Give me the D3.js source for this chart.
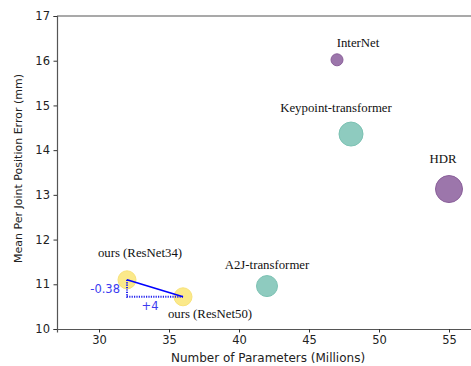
<!DOCTYPE html>
<html>
<head>
<meta charset="utf-8">
<script src="https://cdn.jsdelivr.net/npm/d3@7"></script>
<style>
  body { margin: 0; background: #fff; }
  svg { display: block; }
</style>
</head>
<body>
<div id="chart"></div>
<script>
// Data
const methods = ['InterNet', 'Keypoint-transformer', 'HDR', 'A2J-transformer', 'ours (ResNet34)', 'ours (ResNet50)'];
const params = [47, 48, 55, 42, 32, 36];
const errors = [16.02, 14.36, 13.13, 10.96, 11.1, 10.72];
const sizes = [6, 12, 13.5, 10.5, 9, 9];
const groups = ['purple', 'teal', 'purple', 'teal', 'ours', 'ours'];
const xTicks = [30, 35, 40, 45, 50, 55];
const yTicks = [10, 11, 12, 13, 14, 15, 16, 17];

const fills = { purple: '#9c76ab', teal: '#8ecbbf', ours: '#fbe98a' };
const strokes = { purple: '#8a5f9a', teal: '#7cc2b3', ours: '#f8e27a' };

const width = 471, height = 366;
const margin = { top: 16, right: -1, bottom: 37, left: 57 };

const svg = d3.select('#chart')
    .append('svg')
    .attr('width', width)
    .attr('height', height);

// scales
const x = d3.scaleLinear()
    .domain([27, 30 + (width - margin.right - 99) / 14])
    .range([margin.left, width - margin.right]);
const y = d3.scaleLinear()
    .domain([10, 17])
    .range([height - margin.bottom, margin.top]);

// axes
const xAxis = svg.append('g')
    .attr('transform', `translate(0,${height - margin.bottom})`)
    .call(d3.axisBottom(x).tickValues(xTicks).tickFormat(d3.format('d')).tickSize(3.5).tickPadding(3.5));
const yAxis = svg.append('g')
    .attr('transform', `translate(${margin.left},0)`)
    .call(d3.axisLeft(y).tickValues(yTicks).tickFormat(d3.format('d')).tickSize(3.5).tickPadding(3.5));

[xAxis, yAxis].forEach(a => {
    a.selectAll('text')
        .style('font-family', 'DejaVu Sans, sans-serif')
        .style('font-size', '11.5px')
        .attr('fill', '#222');
    a.selectAll('line').attr('stroke', '#333');
    a.select('.domain').attr('stroke', '#555').attr('stroke-width', 1.2);
});

// top spine
svg.append('line')
    .attr('x1', margin.left).attr('x2', width)
    .attr('y1', y(17)).attr('y2', y(17))
    .attr('stroke', '#555').attr('stroke-width', 1.2);

// axis titles
svg.append('text')
    .attr('x', 268)
    .attr('y', height - 4)
    .attr('text-anchor', 'middle')
    .style('font-family', 'DejaVu Sans, sans-serif')
    .style('font-size', '12px')
    .attr('fill', '#222')
    .text('Number of Parameters (Millions)');
svg.append('text')
    .attr('transform', 'translate(22,168.5) rotate(-90)')
    .attr('text-anchor', 'middle')
    .style('font-family', 'DejaVu Sans, sans-serif')
    .style('font-size', '11px')
    .attr('fill', '#222')
    .text('Mean Per Joint Position Error (mm)');

// bubbles
const pts = methods.map((m, i) => ({ m, px: params[i], e: errors[i], r: sizes[i], g: groups[i] }));
svg.selectAll('circle.pt')
    .data(pts)
    .enter()
    .append('circle')
    .attr('class', 'pt')
    .attr('cx', d => x(d.px))
    .attr('cy', d => y(d.e))
    .attr('r', d => d.r)
    .attr('fill', d => fills[d.g])
    .attr('stroke', d => strokes[d.g])
    .attr('stroke-width', 1);

// method labels (offsets in px from the bubble centre)
const labelOffsets = [[21, -13], [-15, -22], [-6, -26], [0, -17], [13, -23], [27, 21]];
svg.selectAll('text.lbl')
    .data(pts)
    .enter()
    .append('text')
    .attr('class', 'lbl')
    .attr('x', (d, i) => x(d.px) + labelOffsets[i][0])
    .attr('y', (d, i) => y(d.e) + labelOffsets[i][1])
    .attr('text-anchor', 'middle')
    .style('font-family', 'Liberation Serif, Times New Roman, serif')
    .style('font-size', '12.8px')
    .attr('fill', '#111')
    .text(d => d.m);

// ours comparison: solid line and dotted legs
const a = pts[4], b = pts[5];
svg.append('path')
    .attr('d', `M${x(a.px)},${y(a.e)}V${y(b.e)}H${x(b.px)}`)
    .attr('fill', 'none')
    .attr('stroke', '#2222ee')
    .attr('stroke-width', 2)
    .attr('stroke-dasharray', '1.2,1.2');
svg.append('line')
    .attr('x1', x(a.px)).attr('y1', y(a.e))
    .attr('x2', x(b.px)).attr('y2', y(b.e))
    .attr('stroke', '#0000ff')
    .attr('stroke-width', 1.6);

svg.append('text')
    .attr('x', x(a.px) - 7)
    .attr('y', (y(a.e) + y(b.e)) / 2 + 4.5)
    .attr('text-anchor', 'end')
    .style('font-family', 'DejaVu Sans, sans-serif')
    .style('font-size', '11.5px')
    .attr('fill', '#3b3bf0')
    .text('-0.38');
svg.append('text')
    .attr('x', x(a.px) + 23)
    .attr('y', y(b.e) + 13)
    .attr('text-anchor', 'middle')
    .style('font-family', 'DejaVu Sans, sans-serif')
    .style('font-size', '11.5px')
    .attr('fill', '#3b3bf0')
    .text('+4');
</script>
</body>
</html>
